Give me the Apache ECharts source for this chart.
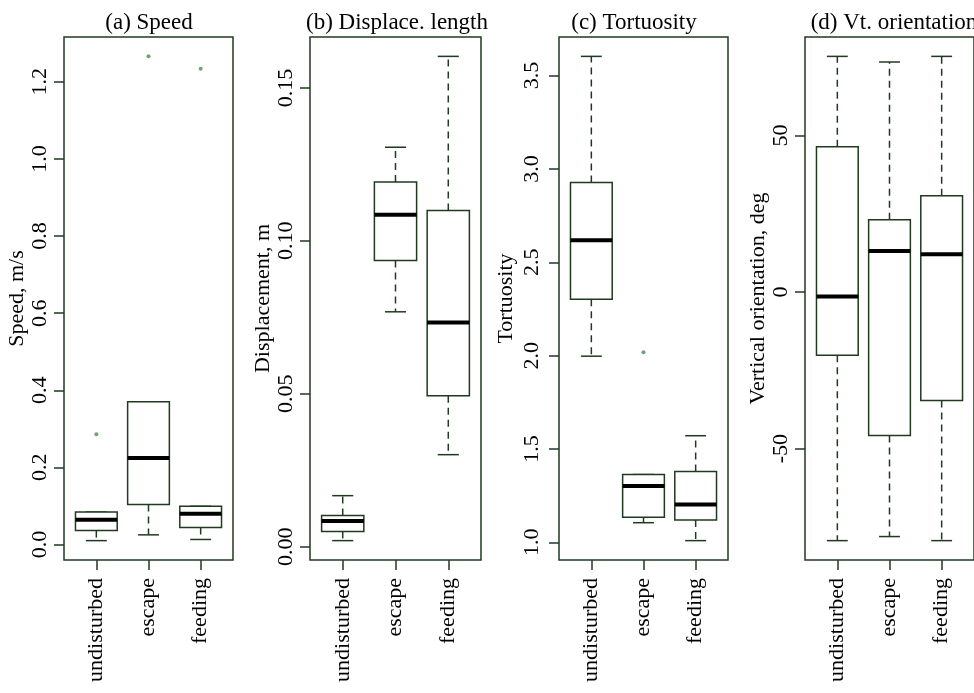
<!DOCTYPE html>
<html>
<head>
<meta charset="utf-8">
<script src="https://cdn.jsdelivr.net/npm/echarts@6/dist/echarts.min.js"></script>
<style>
  html, body { margin: 0; padding: 0; background: #fff; }
  #main { width: 974px; height: 693px; }
</style>
</head>
<body>
<div id="main"></div>
<script>
var dom = document.getElementById("main");
var myChart = echarts.init(dom);

// group names (x positions 1,2,3)
var categories = ["undisturbed", "escape", "feeding"];

// box stats per group: [lower whisker, Q1, median, Q3, upper whisker]
var speedBoxes = [
  [0.010, 0.036, 0.064, 0.084, 0.084],
  [0.025, 0.104, 0.224, 0.370, 0.370],
  [0.013, 0.044, 0.080, 0.099, 0.099]
];
var speedOutliers = [[1, 0.286], [2, 1.266], [3, 1.234]];

var displaceBoxes = [
  [0.0020, 0.0050, 0.0084, 0.0102, 0.0167],
  [0.0768, 0.0936, 0.1085, 0.1192, 0.1306],
  [0.0301, 0.0494, 0.0733, 0.1099, 0.1603]
];
var displaceOutliers = [];

var tortBoxes = [
  [1.997, 2.302, 2.618, 2.927, 3.603],
  [1.105, 1.134, 1.302, 1.363, 1.363],
  [1.009, 1.119, 1.203, 1.379, 1.571]
];
var tortOutliers = [[2, 2.018]];

var orientBoxes = [
  [-79.4, -20.2, -1.4, 46.4, 75.3],
  [-78.1, -45.8, 13.1, 23.1, 73.5],
  [-79.4, -34.6, 12.1, 30.8, 75.3]
];
var orientOutliers = [];

// tick labels
var speedTicks = [0, 0.2, 0.4, 0.6, 0.8, 1.0, 1.2];
var displaceTicks = [0, 0.05, 0.10, 0.15];
var tortTicks = [1.0, 1.5, 2.0, 2.5, 3.0, 3.5];
var orientTicks = [-50, 0, 50];

var FONT = "Liberation Serif";
var INK = "#1f3a1f";

var panels = [
  { title: "(a) Speed", titleX: 144, name: "Speed, m/s", left: 64, width: 169, gap: 33, margin: 13,
    boxes: speedBoxes, outliers: speedOutliers, ticks: speedTicks, dec: 1 },
  { title: "(b) Displace. length", titleX: 392, name: "Displacement, m", left: 310, width: 171, gap: 36, margin: 13,
    boxes: displaceBoxes, outliers: displaceOutliers, ticks: displaceTicks, dec: 2 },
  { title: "(c) Tortuosity", titleX: 629, name: "Tortuosity", left: 559, width: 169, gap: 42, margin: 16,
    boxes: tortBoxes, outliers: tortOutliers, ticks: tortTicks, dec: 1 },
  { title: "(d) Vt. orientation", titleX: 889, name: "Vertical orientation, deg", left: 805, width: 170, gap: 35, margin: 13,
    boxes: orientBoxes, outliers: orientOutliers, ticks: orientTicks, dec: 0 }
];

// R style range: data range stretched by 4% each side
function rRange(boxes, outliers) {
  var lo = Infinity, hi = -Infinity;
  boxes.forEach(function (b) { lo = Math.min(lo, b[0]); hi = Math.max(hi, b[4]); });
  outliers.forEach(function (o) { lo = Math.min(lo, o[1]); hi = Math.max(hi, o[1]); });
  var d = (hi - lo) * 0.04;
  return [lo - d, hi + d];
}

function renderBox(params, api) {
  var x = api.value(0);
  var lo = api.value(1), q1 = api.value(2), med = api.value(3), q3 = api.value(4), hi = api.value(5);
  var hw = 0.4, sw = 0.2;
  var a = api.coord([x - hw, q3]);
  var b = api.coord([x + hw, q1]);
  var m1 = api.coord([x - hw, med]);
  var m2 = api.coord([x + hw, med]);
  var cq3 = api.coord([x, q3]), chi = api.coord([x, hi]);
  var cq1 = api.coord([x, q1]), clo = api.coord([x, lo]);
  var s1 = api.coord([x - sw, hi]), s2 = api.coord([x + sw, hi]);
  var s3 = api.coord([x - sw, lo]), s4 = api.coord([x + sw, lo]);
  var dash = { stroke: INK, lineWidth: 1.5, lineDash: [7, 5] };
  var solid = { stroke: INK, lineWidth: 1.5 };
  return {
    type: "group",
    children: [
      { type: "line", shape: { x1: cq3[0], y1: cq3[1], x2: chi[0], y2: chi[1] }, style: dash },
      { type: "line", shape: { x1: cq1[0], y1: cq1[1], x2: clo[0], y2: clo[1] }, style: dash },
      { type: "line", shape: { x1: s1[0], y1: s1[1], x2: s2[0], y2: s2[1] }, style: solid },
      { type: "line", shape: { x1: s3[0], y1: s3[1], x2: s4[0], y2: s4[1] }, style: solid },
      { type: "rect", shape: { x: a[0], y: a[1], width: b[0] - a[0], height: b[1] - a[1] },
        style: { fill: "#fff", stroke: INK, lineWidth: 1.5 } },
      { type: "line", shape: { x1: m1[0], y1: m1[1], x2: m2[0], y2: m2[1] },
        style: { stroke: "#000", lineWidth: 4 } }
    ]
  };
}

var grids = [], xAxes = [], yAxes = [], series = [], titles = [];

panels.forEach(function (p, i) {
  var yr = rRange(p.boxes, p.outliers);
  titles.push({
    text: p.title, left: p.titleX, top: 6, textAlign: "center",
    textStyle: { fontFamily: FONT, fontSize: 23, fontWeight: "normal", color: "#000" }
  });
  grids.push({
    left: p.left, top: 37, width: p.width, height: 523,
    show: true, borderColor: INK, borderWidth: 1.5, backgroundColor: "#fff"
  });
  xAxes.push({
    type: "value", gridIndex: i, min: 0.38, max: 3.62, position: "bottom",
    axisLine: { show: false, onZero: false },
    splitLine: { show: false },
    axisTick: { show: true, inside: false, length: 10, customValues: [1, 2, 3], lineStyle: { color: INK, width: 1.5 } },
    axisLabel: {
      customValues: [1, 2, 3], rotate: 90, margin: 18,
      fontFamily: FONT, fontSize: 22, color: "#000",
      formatter: function (v) { return categories[Math.round(v) - 1]; }
    }
  });
  yAxes.push({
    type: "value", gridIndex: i, min: yr[0], max: yr[1], position: "left",
    name: p.name, nameLocation: "middle", nameGap: p.gap,
    nameTextStyle: { fontFamily: FONT, fontSize: 22, color: "#000" },
    axisLine: { show: false, onZero: false },
    splitLine: { show: false },
    axisTick: { show: true, inside: false, length: 10, customValues: p.ticks, lineStyle: { color: INK, width: 1.5 } },
    axisLabel: {
      customValues: p.ticks, rotate: 90, margin: p.margin,
      fontFamily: FONT, fontSize: 22, color: "#000",
      formatter: function (v) { return v.toFixed(p.dec); }
    }
  });
  series.push({
    type: "custom", xAxisIndex: i, yAxisIndex: i,
    renderItem: renderBox,
    encode: { x: 0, y: [1, 2, 3, 4, 5] },
    data: p.boxes.map(function (b, k) { return [k + 1].concat(b); })
  });
  series.push({
    type: "scatter", xAxisIndex: i, yAxisIndex: i,
    symbol: "circle", symbolSize: 4,
    itemStyle: { color: "#4f8a4f" },
    data: p.outliers
  });
});

var option = {
  backgroundColor: "#fff",
  animation: false,
  title: titles,
  grid: grids,
  xAxis: xAxes,
  yAxis: yAxes,
  series: series
};

myChart.setOption(option);
</script>
</body>
</html>
